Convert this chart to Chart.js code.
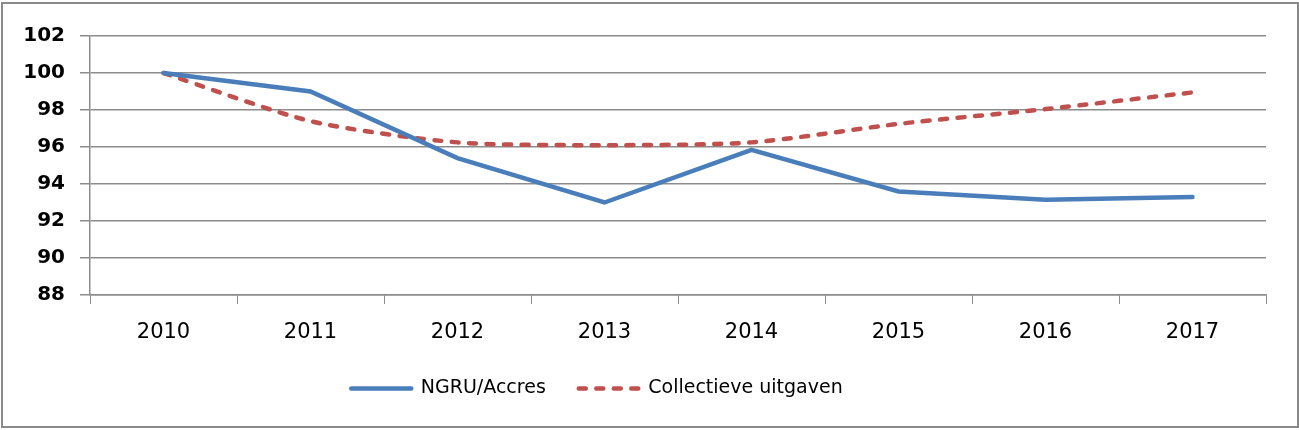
<!DOCTYPE html>
<html>
<head>
<meta charset="utf-8">
<script src="https://cdn.jsdelivr.net/npm/chart.js@4"></script>
<style>
    body { margin: 0; background: white; }
    #kader { position: absolute; left: 1px; top: 2px; width: 1294px; height: 422px; border: 2px solid #8a8a8a; }
    #grafiek { position: absolute; left: 0; top: 0; }
</style>
</head>
<body>
<div id="kader"></div>
<canvas id="grafiek" width="1299" height="430"></canvas>
<script>
// jaren op de x-as
const jaren = ['2010', '2011', '2012', '2013', '2014', '2015', '2016', '2017'];

// indexcijfers (2010 = 100)
const ngruAccres = [100, 99.0, 95.4, 93.0, 95.85, 93.6, 93.15, 93.3];
const collectieveUitgaven = [100, 97.4, 96.25, 96.1, 96.25, 97.25, 98.05, 98.95];

const grijs = '#8c8c8c';

const data = {
    labels: jaren,
    datasets: [{
        label: 'NGRU/Accres',
        data: ngruAccres,
        borderColor: '#4A7EBB',
        backgroundColor: '#4A7EBB',
        borderWidth: 4.5,
        borderCapStyle: 'round',
        pointRadius: 0,
        tension: 0
    }, {
        label: 'Collectieve uitgaven',
        data: collectieveUitgaven,
        borderColor: '#C0504D',
        backgroundColor: '#C0504D',
        borderWidth: 4.5,
        borderDash: [7, 10.5],
        borderCapStyle: 'round',
        pointRadius: 0,
        tension: 0.25
    }]
};

// legenda iets naar links schuiven, zoals in het origineel
const legendaVerschuiven = {
    id: 'legendaVerschuiven',
    afterLayout: function (chart) {
        chart.legend.left -= 36;
        chart.legend.right -= 36;
    }
};

const config = {
    type: 'line',
    data: data,
    options: {
        responsive: false,
        animation: false,
        layout: {
            padding: { top: 36, right: 33, bottom: 22, left: 0 }
        },
        plugins: {
            tooltip: { enabled: false },
            legend: {
                position: 'bottom',
                labels: {
                    color: '#000',
                    font: { family: 'DejaVu Sans', size: 19 },
                    usePointStyle: true,
                    pointStyle: 'line',
                    pointStyleWidth: 60,
                    padding: 33,
                    generateLabels: function (chart) {
                        const items = Chart.defaults.plugins.legend.labels.generateLabels(chart);
                        items.forEach(function (item) {
                            const ds = chart.data.datasets[item.datasetIndex];
                            item.lineDash = ds.borderDash || [];
                            item.lineWidth = ds.borderWidth;
                            item.lineCap = 'round';
                            item.strokeStyle = ds.borderColor;
                        });
                        return items;
                    }
                }
            }
        },
        scales: {
            x: {
                offset: true,
                grid: {
                    offset: true,
                    drawOnChartArea: false,
                    tickLength: 9,
                    color: grijs
                },
                border: { color: grijs, width: 1.5 },
                ticks: {
                    color: '#000',
                    padding: 16,
                    font: { family: 'DejaVu Sans', size: 21 }
                },
                afterFit: function (scale) { scale.height = 51; }
            },
            y: {
                min: 88,
                max: 102,
                ticks: {
                    stepSize: 2,
                    color: '#000',
                    padding: 15,
                    font: { family: 'DejaVu Sans', size: 20, weight: 'bold' }
                },
                grid: {
                    color: grijs,
                    lineWidth: 1.5,
                    tickLength: 10
                },
                border: { color: grijs, width: 1.5 },
                afterFit: function (scale) { scale.width = 90; }
            }
        }
    },
    plugins: [legendaVerschuiven]
};

const grafiek = new Chart(document.getElementById('grafiek').getContext('2d'), config);
</script>
</body>
</html>
